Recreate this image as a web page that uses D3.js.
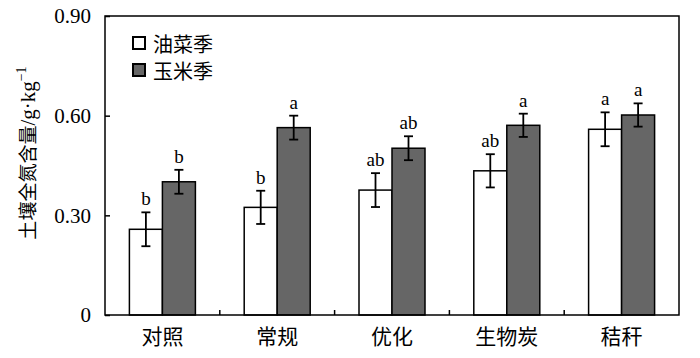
<!DOCTYPE html>
<html><head><meta charset="utf-8">
<script src="https://cdn.jsdelivr.net/npm/d3@7"></script>
<style>body{margin:0;background:#fff}svg{display:block}</style>
</head><body>
<script>
const categories = ["对照","常规","优化","生物炭","秸秆"];
const seriesNames = ["油菜季","玉米季"];
const rapeValues = [0.258, 0.324, 0.376, 0.434, 0.559];
const rapeErrors = [0.051, 0.050, 0.051, 0.050, 0.051];
const rapeLetters = ["b","b","ab","ab","a"];
const maizeValues = [0.401, 0.564, 0.502, 0.571, 0.602];
const maizeErrors = [0.036, 0.036, 0.036, 0.035, 0.035];
const maizeLetters = ["b","a","ab","a","a"];
const yTicks = [0, 0.30, 0.60, 0.90];
const yTickLabels = ["0","0.30","0.60","0.90"];
const yTitleCJK = "土壤全氮含量";
const yTitleUnit = "/g·kg";
const yTitleExp = "−1";

const W = 700, H = 358;
const m = {left:105, right:21, top:16, bottom:43};
const svg = d3.select("body").append("svg").attr("width",W).attr("height",H);
const x = d3.scaleBand().domain(categories).range([m.left, W-m.right]).paddingInner(0).paddingOuter(0);
const y = d3.scaleLinear().domain([0,0.9]).range([H-m.bottom, m.top]);
const x1 = d3.scaleBand().domain([0,1]).range([0,66]);
const colors = ["#ffffff","#666666"];
const serif = "'Liberation Serif','Times New Roman',serif";
const cjk = "'Noto Sans CJK SC',sans-serif";

const series = [
  {vals:rapeValues, errs:rapeErrors, letters:rapeLetters},
  {vals:maizeValues, errs:maizeErrors, letters:maizeLetters}
];

const g = svg.append("g");
series.forEach((s,si)=>{
  categories.forEach((c,i)=>{
    const cx = x(c) + x.bandwidth()/2 - 33 + x1(si);
    const bw = x1.bandwidth();
    g.append("rect").attr("x",cx).attr("y",y(s.vals[i])).attr("width",bw)
      .attr("height",y(0)-y(s.vals[i])).attr("fill",colors[si]).attr("stroke","#000").attr("stroke-width",1.5);
  });
});
series.forEach((s,si)=>{
  categories.forEach((c,i)=>{
    const mx = x(c) + x.bandwidth()/2 - 33 + x1(si) + x1.bandwidth()/2;
    const t = y(s.vals[i]+s.errs[i]), b = y(s.vals[i]-s.errs[i]);
    g.append("line").attr("x1",mx).attr("x2",mx).attr("y1",t).attr("y2",b).attr("stroke","#000").attr("stroke-width",1.8);
    [t,b].forEach(yy=>g.append("line").attr("x1",mx-4.5).attr("x2",mx+4.5).attr("y1",yy).attr("y2",yy).attr("stroke","#000").attr("stroke-width",1.8));
    g.append("text").attr("x",mx).attr("y",t-7).attr("text-anchor","middle")
      .attr("font-family",serif).attr("font-size",19).text(s.letters[i]);
  });
});

// frame
svg.append("rect").attr("x",m.left).attr("y",m.top).attr("width",W-m.left-m.right).attr("height",H-m.top-m.bottom)
  .attr("fill","none").attr("stroke","#000").attr("stroke-width",1.5);

// y axis
const yAxis = d3.axisLeft(y).tickValues(yTicks).tickFormat((d,i)=>yTickLabels[i]).tickSizeInner(-5).tickSizeOuter(0).tickPadding(14);
const ya = svg.append("g").attr("transform",`translate(${m.left},0)`).call(yAxis);
ya.select(".domain").remove();
ya.selectAll("line").attr("stroke","#000").attr("stroke-width",1.5);
ya.selectAll("text").attr("font-family",serif).attr("font-size",21).attr("fill","#000");

// x axis ticks between groups
const bounds = categories.slice(1).map(c=>x(c));
svg.selectAll(".xt").data(bounds).enter().append("line")
  .attr("x1",d=>d).attr("x2",d=>d).attr("y1",y(0)).attr("y2",y(0)-5).attr("stroke","#000").attr("stroke-width",1.5);
const xAxis = d3.axisBottom(x).tickSize(0).tickPadding(14);
const xa = svg.append("g").attr("transform",`translate(0,${y(0)})`).call(xAxis);
xa.select(".domain").remove();
xa.selectAll("text").attr("font-family",cjk).attr("font-size",21).attr("fill","#000");

// y title
const yt = svg.append("text").attr("transform",`translate(35,${(63+243)/2}) rotate(-90)`)
  .attr("text-anchor","middle").attr("font-size",20).attr("fill","#000");
yt.append("tspan").attr("font-family",cjk).attr("font-size",19).text(yTitleCJK);
yt.append("tspan").attr("font-family",serif).attr("font-size",21).text(yTitleUnit);
yt.append("tspan").attr("font-family",serif).attr("font-size",14).attr("dy",-9).text(yTitleExp);

// legend
seriesNames.forEach((n,i)=>{
  const ly = 37 + i*27;
  svg.append("rect").attr("x",133).attr("y",ly).attr("width",12).attr("height",12)
    .attr("fill",colors[i]).attr("stroke","#000").attr("stroke-width",2);
  svg.append("text").attr("x",153).attr("y",ly+6).attr("dominant-baseline","central")
    .attr("font-family",cjk).attr("font-size",20).attr("fill","#000").text(n);
});
</script>
</body></html>
